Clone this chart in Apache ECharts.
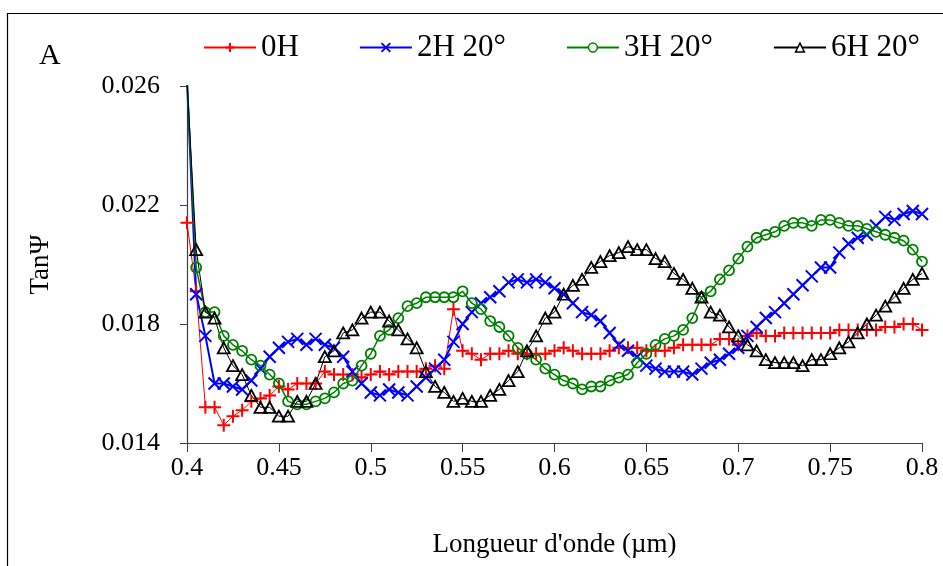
<!DOCTYPE html>
<html>
<head>
<meta charset="utf-8">
<script src="https://cdn.jsdelivr.net/npm/echarts@6/dist/echarts.min.js"></script>
<style>
html,body{margin:0;padding:0;background:#fff;}
#chart{width:943px;height:566px;}
</style>
</head>
<body>
<div id="chart"></div>
<script>
const wavelength = [
0.400,0.405,0.410,0.415,0.420,0.425,0.430,0.435,0.440,0.445,
0.450,0.455,0.460,0.465,0.470,0.475,0.480,0.485,0.490,0.495,
0.500,0.505,0.510,0.515,0.520,0.525,0.530,0.535,0.540,0.545,
0.550,0.555,0.560,0.565,0.570,0.575,0.580,0.585,0.590,0.595,
0.600,0.605,0.610,0.615,0.620,0.625,0.630,0.635,0.640,0.645,
0.650,0.655,0.660,0.665,0.670,0.675,0.680,0.685,0.690,0.695,
0.700,0.705,0.710,0.715,0.720,0.725,0.730,0.735,0.740,0.745,
0.750,0.755,0.760,0.765,0.770,0.775,0.780,0.785,0.790,0.795,
0.800];

const seriesNames = ['0H', '2H 20°', '3H 20°', '6H 20°'];

const tan0H = [
0.0214,0.0191,0.0152,0.0152,0.0146,0.0149,0.0151,0.0154,0.0155,0.0156,
0.0159,0.0158,0.0160,0.0160,0.0160,0.0164,0.0163,0.0163,0.0163,0.0162,
0.0163,0.0164,0.0163,0.0164,0.0164,0.0164,0.0165,0.0166,0.0165,0.0185,
0.0171,0.0170,0.0168,0.0170,0.0170,0.0171,0.0170,0.0170,0.0170,0.0170,
0.0171,0.0172,0.0171,0.0170,0.0170,0.0170,0.0171,0.0172,0.0172,0.0172,
0.0171,0.0171,0.0171,0.0172,0.0173,0.0173,0.0173,0.0173,0.0175,0.0175,
0.0173,0.0176,0.0177,0.0176,0.0176,0.0177,0.0177,0.0177,0.0177,0.0177,
0.0177,0.0178,0.0178,0.0178,0.0178,0.0178,0.0179,0.0179,0.0180,0.0180,
0.0178];

const tan2H = [
0.0262,0.0190,0.0176,0.0160,0.0160,0.0159,0.0158,0.0161,0.0165,0.0169,
0.0172,0.0174,0.0175,0.0173,0.0175,0.0173,0.0172,0.0169,0.0164,0.0160,
0.0157,0.0156,0.0158,0.0157,0.0156,0.0159,0.0162,0.0165,0.0168,0.0174,
0.0180,0.0184,0.0187,0.0189,0.0191,0.0194,0.0195,0.0194,0.0195,0.0194,
0.0192,0.0190,0.0187,0.0184,0.0183,0.0181,0.0177,0.0173,0.0171,0.0169,
0.0166,0.0165,0.0164,0.0164,0.0164,0.0163,0.0165,0.0167,0.0168,0.0170,
0.0172,0.0176,0.0179,0.0182,0.0184,0.0187,0.0190,0.0193,0.0196,0.0199,
0.0199,0.0204,0.0207,0.0209,0.0210,0.0213,0.0216,0.0215,0.0217,0.0218,
0.0217];

const tan3H = [
0.0262,0.0199,0.0184,0.0184,0.0176,0.0173,0.0171,0.0168,0.0166,0.0163,
0.0160,0.0154,0.0153,0.0153,0.0154,0.0155,0.0157,0.0160,0.0161,0.0166,
0.0170,0.0176,0.0178,0.0182,0.0186,0.0187,0.0189,0.0189,0.0189,0.0189,
0.0191,0.0187,0.0185,0.0181,0.0179,0.0176,0.0172,0.0170,0.0168,0.0165,
0.0163,0.0161,0.0160,0.0158,0.0159,0.0159,0.0161,0.0162,0.0163,0.0167,
0.0170,0.0173,0.0175,0.0176,0.0178,0.0182,0.0189,0.0191,0.0195,0.0198,
0.0202,0.0206,0.0209,0.0210,0.0211,0.0213,0.0214,0.0214,0.0213,0.0215,
0.0215,0.0214,0.0213,0.0213,0.0212,0.0211,0.0210,0.0209,0.0208,0.0205,
0.0201];

const tan6H = [
0.0262,0.0205,0.0184,0.0182,0.0172,0.0166,0.0163,0.0156,0.0152,0.0152,
0.0149,0.0149,0.0154,0.0154,0.0160,0.0169,0.0171,0.0177,0.0178,0.0182,
0.0184,0.0184,0.0181,0.0178,0.0175,0.0172,0.0164,0.0159,0.0157,0.0154,
0.0155,0.0154,0.0154,0.0156,0.0158,0.0161,0.0164,0.0171,0.0176,0.0182,
0.0184,0.0190,0.0193,0.0195,0.0199,0.0201,0.0203,0.0204,0.0206,0.0205,
0.0205,0.0202,0.0201,0.0197,0.0195,0.0192,0.0189,0.0184,0.0183,0.0179,
0.0176,0.0173,0.0171,0.0168,0.0167,0.0167,0.0167,0.0166,0.0168,0.0168,
0.0170,0.0172,0.0174,0.0177,0.0180,0.0183,0.0186,0.0189,0.0192,0.0195,
0.0197];

const FONT = '"Liberation Serif", "Times New Roman", serif';
const PLUS = 'path://M0,5L10,5M5,0L5,10';
const CROSS = 'path://M0,0L10,10M10,0L0,10';
const TRI = 'path://M5,0L10,9L0,9Z';

function pairs(arr) { return wavelength.map((x, i) => [x, arr[i]]); }

const chart = echarts.init(document.getElementById('chart'), null, {renderer: 'canvas'});
chart.setOption({
  animation: false,
  backgroundColor: '#fff',
  graphic: [
    {type: 'rect', left: 5, top: 11, shape: {x: 0, y: 0, width: 1000, height: 700},
     style: {fill: 'none', stroke: '#000', lineWidth: 1.2}, silent: true, z: 0},
    {type: 'text', left: 39, top: 41, style: {text: 'A', font: '30px ' + FONT, fill: '#000'}}
  ],
  grid: {left: 187, right: 21, top: 86, bottom: 123, containLabel: false},
  legend: {
    left: 198, top: 27, itemWidth: 52, itemHeight: 11, itemGap: 60,
    textStyle: {fontFamily: FONT, fontSize: 31, color: '#000'},
    data: [
      {name: seriesNames[0]},
      {name: seriesNames[1]},
      {name: seriesNames[2], itemStyle: {color: '#fff', borderColor: '#008000', borderWidth: 1.5}},
      {name: seriesNames[3], itemStyle: {color: '#fff', borderColor: '#000000', borderWidth: 1.5}}
    ]
  },
  xAxis: {
    type: 'value', min: 0.4, max: 0.8, interval: 0.05,
    name: "Longueur d'onde (µm)", nameLocation: 'middle', nameGap: 88,
    nameTextStyle: {fontFamily: FONT, fontSize: 27, color: '#000'},
    axisLine: {lineStyle: {color: '#404040', width: 1.2}},
    axisTick: {length: 9, lineStyle: {color: '#404040'}},
    axisLabel: {fontFamily: FONT, fontSize: 26, color: '#000', margin: 12,
      formatter: v => String(+v.toFixed(3))},
    splitLine: {show: false}
  },
  yAxis: {
    type: 'value', min: 0.014, max: 0.026, interval: 0.004,
    name: 'TanΨ', nameLocation: 'middle', nameRotate: 90, nameGap: 133,
    nameTextStyle: {fontFamily: FONT, fontSize: 27, color: '#000'},
    axisLine: {show: true, lineStyle: {color: '#404040', width: 1.2}},
    axisTick: {show: true, length: 7, lineStyle: {color: '#404040'}},
    axisLabel: {fontFamily: FONT, fontSize: 26, color: '#000', margin: 27,
      formatter: v => v.toFixed(3)},
    splitLine: {show: false}
  },
  series: [
    {name: seriesNames[0], type: 'line', data: pairs(tan0H), clip: true,
     symbol: PLUS, symbolSize: 13, color: '#ff0000',
     lineStyle: {color: '#ff0000', width: 1},
     itemStyle: {color: '#ff0000', borderColor: '#ff0000', borderWidth: 2}},
    {name: seriesNames[1], type: 'line', data: pairs(tan2H), clip: true,
     symbol: CROSS, symbolSize: 12, color: '#0000ff',
     lineStyle: {color: '#0000ff', width: 2},
     itemStyle: {color: '#0000ff', borderColor: '#0000ff', borderWidth: 2}},
    {name: seriesNames[2], type: 'line', data: pairs(tan3H), clip: true,
     symbol: 'circle', symbolSize: 10, color: '#008000',
     lineStyle: {color: '#008000', width: 1.5},
     itemStyle: {color: 'rgba(0,0,0,0)', borderColor: '#008000', borderWidth: 1.8}},
    {name: seriesNames[3], type: 'line', data: pairs(tan6H), clip: true,
     symbol: TRI, symbolSize: [12, 11], color: '#000000',
     lineStyle: {color: '#000000', width: 1},
     itemStyle: {color: 'rgba(0,0,0,0)', borderColor: '#000000', borderWidth: 1.8}}
  ]
});
</script>
</body>
</html>
